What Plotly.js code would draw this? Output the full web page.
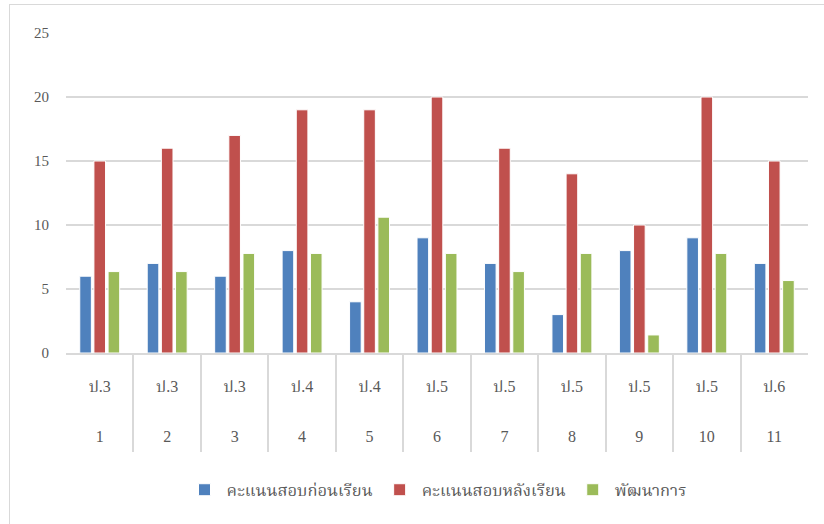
<!DOCTYPE html>
<html><head><meta charset="utf-8">
<script src="https://cdn.plot.ly/plotly-3.0.1.min.js"></script>
<style>
html,body{margin:0;padding:0;background:#fff;}
#chart{position:absolute;left:0;top:0;width:824px;height:524px;}
#frame{position:absolute;left:9px;top:4px;width:830px;height:540px;border-left:1px solid #d9d9d9;border-top:1px solid #d9d9d9;pointer-events:none;}
</style></head>
<body>
<div id="chart"></div>
<div id="frame"></div>
<script>
const studentNo = ['1','2','3','4','5','6','7','8','9','10','11'];
const gradeLevel = ['ป.3','ป.3','ป.3','ป.4','ป.4','ป.5','ป.5','ป.5','ป.5','ป.5','ป.6'];
const preScores = [6,7,6,8,4,9,7,3,8,9,7];
const postScores = [15,16,17,19,19,20,16,14,10,20,15];
const development = [6.36,6.36,7.78,7.78,10.61,7.78,6.36,7.78,1.41,7.78,5.66];
const seriesNames = ['คะแนนสอบก่อนเรียน','คะแนนสอบหลังเรียน','พัฒนาการ'];
const colors = ['#4F81BD','#C0504D','#9BBB59'];

const idx = studentNo.map((_, i) => i);
const boundaries = idx.map(i => i - 0.5).concat([idx.length - 0.5]);
const xr = [-0.5, idx.length - 0.5];

const font = "'Liberation Serif', 'Times New Roman', 'Noto Serif Thai', 'Noto Sans Thai', serif";
const traces = [preScores, postScores, development].map((v,i)=>({
  type:'bar', x:idx, y:v, name:seriesNames[i],
  marker:{color:colors[i], line:{color:'#ffffff', width:1}},
  hoverinfo:'y'
}));
// empty helper traces so that the two extra label/divider axes get drawn
['x2','x3'].forEach(ax => traces.push({type:'scatter', mode:'none', x:[], y:[], xaxis:ax,
  showlegend:false, hoverinfo:'skip'}));

const W = 824, H = 524, mt = 33, mb = 20;
const ph = H - mt - mb;
const py = px => (H - mb - px) / ph;   // pixel row -> paper fraction

const layout = {
  width:W, height:H,
  margin:{l:66, r:16, t:mt, b:mb, autoexpand:false},
  paper_bgcolor:'#ffffff', plot_bgcolor:'#ffffff',
  barmode:'group', bargap:0.37, bargroupgap:0.18,
  font:{family:font, size:15, color:'#595959'},
  showlegend:true,
  legend:{orientation:'h', x:0.5, xanchor:'center', y:py(490), yanchor:'middle',
          font:{size:16.5, color:'#595959'}, traceorder:'normal', itemwidth:34},
  xaxis:{range:xr, tickmode:'array', tickvals:idx, ticktext:gradeLevel,
         showline:true, linecolor:'#d9d9d9', linewidth:2, ticks:'', showgrid:false, zeroline:false,
         ticklabelstandoff:18, tickfont:{size:16, color:'#595959'}},
  xaxis2:{overlaying:'x', anchor:'free', position:py(425), side:'bottom', range:xr,
          tickmode:'array', tickvals:idx, ticktext:studentNo,
          showline:false, ticks:'', showgrid:false, zeroline:false,
          tickfont:{size:16, color:'#595959'}},
  xaxis3:{overlaying:'x', anchor:'free', position:py(452), side:'bottom', range:xr,
          tickmode:'array', tickvals:boundaries, showticklabels:false,
          ticks:'inside', ticklen:99, tickwidth:2, tickcolor:'#d9d9d9',
          showline:false, showgrid:false, zeroline:false},
  yaxis:{domain:[py(353), 1], range:[0,25], dtick:5, showgrid:true, gridcolor:'#d9d9d9', gridwidth:2,
         zeroline:false, showline:false, ticks:'', ticklabelstandoff:16,
         tickfont:{size:15, color:'#595959'}}
};
Plotly.newPlot('chart', traces, layout, {displayModeBar:false, staticPlot:true});
</script>
</body></html>
